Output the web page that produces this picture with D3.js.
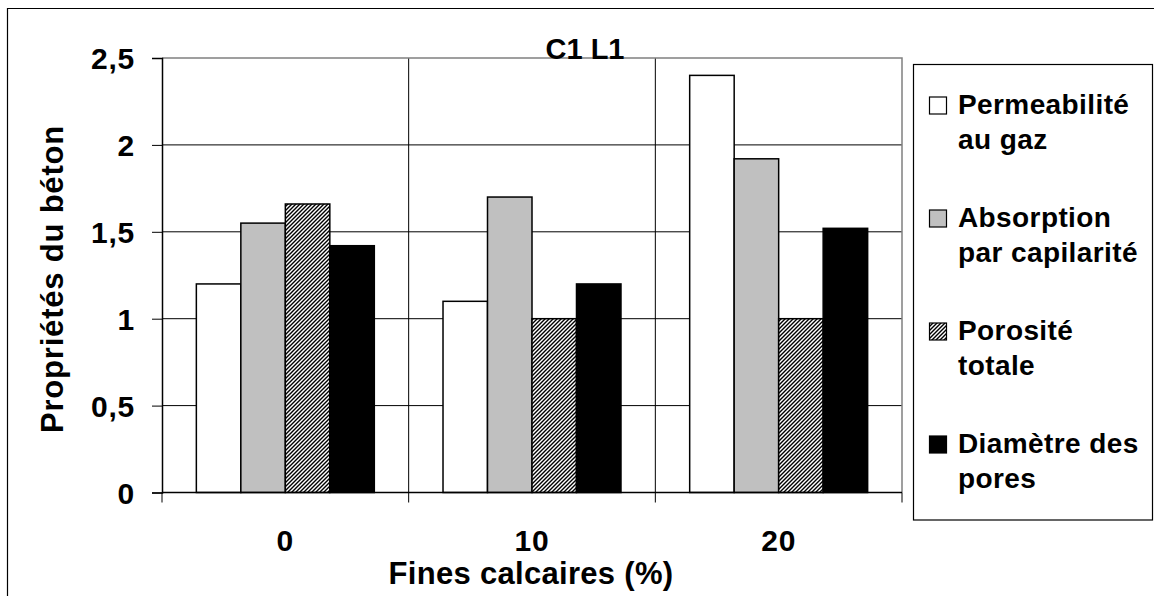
<!DOCTYPE html>
<html>
<head>
<meta charset="utf-8">
<script src="https://cdn.jsdelivr.net/npm/d3@7"></script>
<style>
  body { margin: 0; background: #fff; }
  text { font-family: "Liberation Sans", Arial, sans-serif; font-weight: bold; }
</style>
</head>
<body>
<svg id="svg"></svg>
<script>
// data
const categories = ["0", "10", "20"];
const seriesNames = ["Permeabilité au gaz", "Absorption par capilarité", "Porosité totale", "Diamètre des pores"];
const permeabilite = [1.2, 1.1, 2.4];
const absorption = [1.55, 1.7, 1.92];
const porosite = [1.66, 1.0, 1.0];
const diametre = [1.42, 1.2, 1.52];
const yTicks = [0, 0.5, 1, 1.5, 2, 2.5];
const legendLines = [["Permeabilité", "au gaz"], ["Absorption", "par capilarité"], ["Porosité", "totale"], ["Diamètre des", "pores"]];

const width = 1154;
const height = 596;
const plot = { left: 162, right: 902, top: 58, bottom: 492.5 };
const fills = ["#ffffff", "#c0c0c0", "url(#hatch)", "#000000"];

let svg = d3.select("#svg").attr("width", width).attr("height", height);

let xScale = d3.scaleBand().domain(categories).range([plot.left, plot.right]).padding(0);
let xInner = d3.scaleBand().domain(d3.range(4)).range([0, xScale.bandwidth()]).paddingInner(0).paddingOuter(0.772);
let yScale = d3.scaleLinear().domain([0, 2.5]).range([plot.bottom, plot.top]);

function drawFrame() {
    // outer chart border (cut by the picture edge on right and bottom)
    svg.append("path")
        .attr("d", `M7.5,${height} V8.5 H${width}`)
        .attr("fill", "none")
        .attr("stroke", "#000")
        .attr("stroke-width", 1.2);

    // hatch pattern for porosité
    let pat = svg.append("defs").append("pattern")
        .attr("id", "hatch")
        .attr("patternUnits", "userSpaceOnUse")
        .attr("width", 4).attr("height", 4);
    pat.append("rect").attr("width", 4).attr("height", 4).attr("fill", "#fff");
    pat.append("path")
        .attr("d", "M-1,1 L1,-1 M0,4 L4,0 M3,5 L5,3")
        .attr("stroke", "#000")
        .attr("stroke-width", 1.4);
}

function drawGrid() {
    let g = svg.append("g");
    // horizontal grid lines
    g.selectAll("line.h")
        .data(yTicks.filter(d => d > 0 && d < 2.5))
        .join("line")
        .attr("x1", plot.left).attr("x2", plot.right)
        .attr("y1", d => yScale(d)).attr("y2", d => yScale(d))
        .attr("stroke", "#000").attr("stroke-width", 1);
    // vertical lines between categories
    g.selectAll("line.v")
        .data(categories.slice(1))
        .join("line")
        .attr("x1", d => xScale(d)).attr("x2", d => xScale(d))
        .attr("y1", plot.top).attr("y2", plot.bottom)
        .attr("stroke", "#000").attr("stroke-width", 1);
    // top and right border of plot area in grey
    g.append("path")
        .attr("d", `M${plot.left},${plot.top} H${plot.right} V${plot.bottom}`)
        .attr("fill", "none")
        .attr("stroke", "#808080")
        .attr("stroke-width", 1.5);
}

function drawBars() {
    let allSeries = [permeabilite, absorption, porosite, diametre];
    let chart = svg.append("g");
    allSeries.forEach(function (values, s) {
        chart.selectAll("rect.s" + s)
            .data(values)
            .join("rect")
            .attr("x", (d, i) => xScale(categories[i]) + xInner(s))
            .attr("width", xInner.bandwidth())
            .attr("y", d => yScale(d))
            .attr("height", d => plot.bottom - yScale(d))
            .attr("fill", fills[s])
            .attr("stroke", "#000")
            .attr("stroke-width", 1.5);
    });
}

function drawAxes() {
    let yAxis = d3.axisLeft(yScale)
        .tickValues(yTicks)
        .tickSize(10)
        .tickPadding(17)
        .tickFormat(d => String(d).replace(".", ","));
    let ya = svg.append("g")
        .attr("transform", `translate(${plot.left},0)`)
        .call(yAxis);
    ya.select(".domain").attr("stroke", "#000").attr("stroke-width", 1.5);
    ya.selectAll(".tick line").attr("stroke", "#000").attr("stroke-width", 1);
    ya.selectAll(".tick text")
        .attr("font-size", 30).attr("font-family", null).attr("fill", "#000")
        .attr("letter-spacing", 0.8)
        .attr("dy", "0.36em");

    let xAxis = d3.axisBottom(xScale).tickSize(0).tickPadding(37);
    let xa = svg.append("g")
        .attr("transform", `translate(0,${plot.bottom})`)
        .call(xAxis);
    xa.select(".domain").remove();
    xa.selectAll(".tick text")
        .attr("font-size", 30).attr("font-family", null).attr("fill", "#000")
        .attr("letter-spacing", 0.8);

    // x axis line with tick marks at category boundaries
    let bounds = categories.map(d => xScale(d)).concat([plot.right]);
    svg.append("line")
        .attr("x1", plot.left).attr("x2", plot.right)
        .attr("y1", plot.bottom).attr("y2", plot.bottom)
        .attr("stroke", "#000").attr("stroke-width", 1.5);
    svg.selectAll("line.xt")
        .data(bounds)
        .join("line")
        .attr("x1", d => d).attr("x2", d => d)
        .attr("y1", plot.bottom).attr("y2", plot.bottom + 10)
        .attr("stroke", "#000").attr("stroke-width", 1);

    svg.append("text")
        .attr("x", 531)
        .attr("y", 584)
        .attr("text-anchor", "middle")
        .attr("font-size", 31)
        .attr("letter-spacing", 0.3)
        .text("Fines calcaires (%)");

    svg.append("text")
        .attr("transform", `translate(63,279) rotate(-90)`)
        .attr("text-anchor", "middle")
        .attr("font-size", 31)
        .attr("letter-spacing", 0.8)
        .text("Propriétés du béton");

    svg.append("text")
        .attr("x", 585)
        .attr("y", 59)
        .attr("text-anchor", "middle")
        .attr("font-size", 29)
        .text("C1 L1");
}

function drawLegend() {
    let lg = svg.append("g");
    lg.append("rect")
        .attr("x", 913.5).attr("y", 64.5)
        .attr("width", 239).attr("height", 455.5)
        .attr("fill", "#fff")
        .attr("stroke", "#000").attr("stroke-width", 1.2);
    let items = lg.selectAll("g.item")
        .data(seriesNames)
        .join("g")
        .attr("transform", (d, i) => `translate(0,${114 + i * 113})`);
    items.append("rect")
        .attr("x", 929.5).attr("y", -17)
        .attr("width", 17).attr("height", 17)
        .attr("fill", (d, i) => fills[i])
        .attr("stroke", "#000").attr("stroke-width", 1.2);
    items.each(function (d, i) {
        let t = d3.select(this).append("text")
            .attr("x", 958)
            .attr("font-size", 28)
            .attr("letter-spacing", 0.4);
        legendLines[i].forEach(function (line, k) {
            t.append("tspan").attr("x", 958).attr("y", k * 35).text(line);
        });
    });
}

drawFrame();
drawGrid();
drawBars();
drawAxes();
drawLegend();
</script>
</body>
</html>
